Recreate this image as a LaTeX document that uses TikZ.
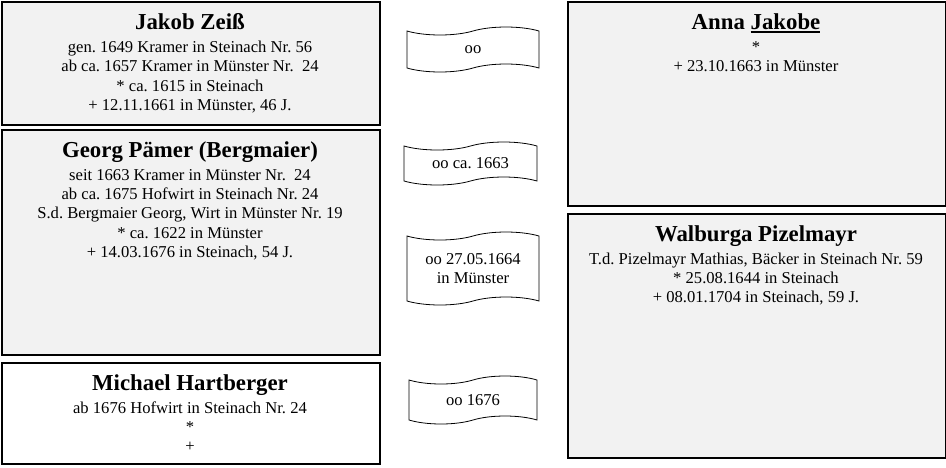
\documentclass[tikz,border=0pt]{standalone}
\usepackage{fontspec}
\setmainfont{Liberation Serif}
\frenchspacing
\usetikzlibrary{shapes.symbols}
\definecolor{boxgray}{HTML}{F2F2F2}
\newcommand\ttl[1]{{\fontsize{22.8}{24}\selectfont\bfseries #1}}
\newcommand\myuline[1]{\setbox0=\hbox{#1}\leavevmode\rlap{\rule[-4pt]{\wd0}{1.8pt}}\box0}
\tikzset{
  person/.style={draw, line width=1.5pt, fill=boxgray, anchor=north west, inner sep=0pt, minimum width=378pt},
  ptext/.style={anchor=north, align=center, inner sep=0pt, font=\fontsize{16.6}{19.3}\selectfont\frenchspacing},
  banner/.style={tape, draw, line width=0.8pt, fill=white, tape bend height=8pt, inner sep=0pt,
    align=center, font=\fontsize{16.6}{19.3}\selectfont\frenchspacing}
}
\begin{document}
\begin{tikzpicture}[x=1pt,y=-1pt]
\useasboundingbox (0,0) rectangle (946,467);
% persons
\node[person, minimum height=123pt] (jakob) at (1,1) {};
\node[person, minimum height=225pt] (georg) at (1,129) {};
\node[person, minimum height=101pt, fill=white] (michael) at (1,362) {};
\node[person, minimum height=204pt] (anna) at (567,1) {};
\node[person, minimum height=244pt] (walburga) at (567,213) {};
% texts
\node[ptext] (jakobT) at (190,13) {\ttl{Jakob Zeiß}\\[4pt]
  gen. 1649 Kramer in Steinach Nr. 56\\
  ab ca. 1657 Kramer in Münster Nr.~~24\\
  * ca. 1615 in Steinach\\
  + 12.11.1661 in Münster, 46 J.};
\node[ptext] (georgT) at (190,141) {\ttl{Georg Pämer (Bergmaier)}\\[4pt]
  seit 1663 Kramer in Münster Nr.~~24\\
  ab ca. 1675 Hofwirt in Steinach Nr. 24\\
  S.d. Bergmaier Georg, Wirt in Münster Nr. 19\\
  * ca. 1622 in Münster\\
  + 14.03.1676 in Steinach, 54 J.};
\node[ptext] (michaelT) at (190,374) {\ttl{Michael Hartberger}\\[4pt]
  ab 1676 Hofwirt in Steinach Nr. 24\\
  *\\
  +};
\node[ptext] (annaT) at (756,13) {\ttl{Anna \myuline{Jakobe}}\\[4pt]
  *\\
  + 23.10.1663 in Münster};
\node[ptext] (walburgaT) at (756,225) {\ttl{Walburga Pizelmayr}\\[4pt]
  T.d. Pizelmayr Mathias, Bäcker in Steinach Nr. 59\\
  * 25.08.1644 in Steinach\\
  + 08.01.1704 in Steinach, 59 J.};
% marriages
\node[banner, minimum width=132pt, minimum height=45pt] (m1) at (473,49.5) {oo};
\node[banner, minimum width=133pt, minimum height=43pt] (m2) at (470.5,163.5) {oo ca. 1663};
\node[banner, minimum width=132pt, minimum height=73pt] (m3) at (473,268.5) {oo 27.05.1664\\in Münster};
\node[banner, minimum width=128pt, minimum height=48pt] (m4) at (473,400) {oo 1676};
\end{tikzpicture}
\end{document}
